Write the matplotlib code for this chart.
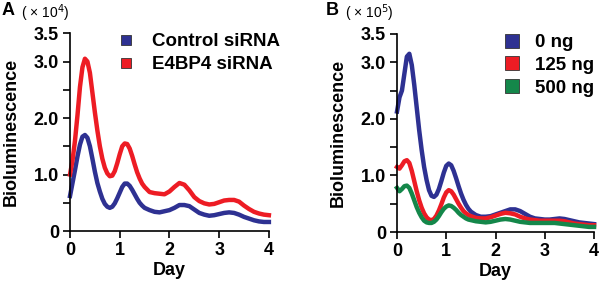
from matplotlib import pyplot as plt
from matplotlib.lines import Line2D

plt.rcParams['font.family'] = ['Liberation Sans', 'DejaVu Sans']

# time axis (days): denser sampling over the first 1.5 days
day = [round(0.05 * i, 2) for i in range(31)] + [round(1.6 + 0.1 * i, 1) for i in range(25)]

# Panel A (x10^4)
control_sirna = [0.62, 0.85, 1.08, 1.32, 1.53, 1.67, 1.70, 1.65, 1.50, 1.28,
                 1.05, 0.85, 0.70, 0.57, 0.48, 0.43, 0.41, 0.43, 0.49, 0.58,
                 0.68, 0.78, 0.84, 0.84, 0.80, 0.73, 0.65, 0.57, 0.50, 0.45,
                 0.41,
                 0.37, 0.34, 0.33, 0.35, 0.37, 0.41, 0.46, 0.46, 0.44, 0.38,
                 0.32, 0.29, 0.27, 0.28, 0.30, 0.32, 0.33, 0.32, 0.29, 0.25,
                 0.22, 0.19, 0.17, 0.16, 0.16]
e4bp4_sirna = [1.00, 1.25, 1.60, 2.05, 2.55, 2.90, 3.05, 3.00, 2.80, 2.45,
               2.10, 1.78, 1.50, 1.28, 1.12, 1.02, 0.97, 0.98, 1.06, 1.20,
               1.36, 1.50, 1.55, 1.54, 1.46, 1.33, 1.18, 1.04, 0.93, 0.84,
               0.78,
               0.69, 0.67, 0.66, 0.65, 0.70, 0.78, 0.85, 0.82, 0.72, 0.60,
               0.53, 0.49, 0.47, 0.48, 0.51, 0.54, 0.55, 0.55, 0.52, 0.45,
               0.39, 0.34, 0.31, 0.29, 0.28]

# Panel B (x10^5)
ng0 = [2.13, 2.38, 2.50, 2.80, 3.10, 3.15, 2.95, 2.60, 2.20, 1.80,
       1.45, 1.15, 0.92, 0.74, 0.64, 0.62, 0.66, 0.76, 0.90, 1.05,
       1.17, 1.21, 1.18, 1.08, 0.95, 0.81, 0.68, 0.57, 0.48, 0.41,
       0.36,
       0.30, 0.27, 0.27, 0.28, 0.31, 0.34, 0.37, 0.40, 0.40, 0.37,
       0.32, 0.27, 0.24, 0.23, 0.22, 0.22, 0.23, 0.24, 0.23, 0.21,
       0.19, 0.17, 0.16, 0.15, 0.14]
ng125 = [1.15, 1.12, 1.18, 1.25, 1.27, 1.22, 1.08, 0.90, 0.72, 0.56,
         0.43, 0.33, 0.26, 0.22, 0.21, 0.23, 0.29, 0.38, 0.49, 0.61,
         0.70, 0.74, 0.72, 0.66, 0.58, 0.50, 0.43, 0.37, 0.33, 0.30,
         0.28,
         0.25, 0.24, 0.24, 0.26, 0.29, 0.32, 0.34, 0.33, 0.31, 0.27,
         0.24, 0.22, 0.21, 0.20, 0.20, 0.20, 0.20, 0.20, 0.19, 0.17,
         0.15, 0.14, 0.13, 0.12, 0.12]
ng500 = [0.78, 0.72, 0.76, 0.81, 0.82, 0.78, 0.68, 0.56, 0.44, 0.34,
         0.26, 0.20, 0.17, 0.16, 0.16, 0.18, 0.22, 0.28, 0.35, 0.41,
         0.45, 0.47, 0.46, 0.43, 0.39, 0.34, 0.30, 0.27, 0.24, 0.22,
         0.21,
         0.19, 0.18, 0.17, 0.18, 0.20, 0.22, 0.23, 0.22, 0.20, 0.18,
         0.17, 0.16, 0.16, 0.16, 0.16, 0.16, 0.16, 0.15, 0.14, 0.13,
         0.12, 0.11, 0.10, 0.09, 0.09]

blue = '#2e3192'
red = '#ed1c24'
green = '#14874a'


def style_axes(ax):
    ax.set_xlim(0, 4)
    ax.set_ylim(0, 3.5)
    ax.set_xticks([0, 1, 2, 3, 4])
    ax.set_xticklabels(['0', '1', '2', '3', '4'])
    ax.set_yticks([0, 0.5, 1.0, 1.5, 2.0, 2.5, 3.0, 3.5])
    ax.set_yticklabels(['0', '', '1.0', '', '2.0', '', '3.0', '3.5'])
    for s in ['top', 'right']:
        ax.spines[s].set_visible(False)
    for s in ['left', 'bottom']:
        ax.spines[s].set_linewidth(1.2)
    ax.tick_params(direction='out', length=5, width=1.2, labelsize=13, pad=3)
    for lab in ax.get_xticklabels() + ax.get_yticklabels():
        lab.set_fontweight('bold')
    ax.set_xlabel('Day', fontsize=13, fontweight='bold', labelpad=2)
    ax.set_ylabel('Bioluminescence', fontsize=13, fontweight='bold', labelpad=10)


def legend(ax, names, colors, ms, anchor, textpad):
    handles = [Line2D([], [], marker='s', ls='', ms=ms, mfc=c, mec='#333333',
                      mew=0.6, label=n) for n, c in zip(names, colors)]
    ax.legend(handles=handles, loc='upper left', frameon=False,
              prop={'weight': 'bold', 'size': 13.5}, handletextpad=textpad,
              labelspacing=0.3, borderaxespad=0.0, borderpad=0.0,
              handlelength=1.0, bbox_to_anchor=anchor)


fig = plt.figure(figsize=(5.99, 2.83), dpi=100)

axA = fig.add_axes([0.1169, 0.1837, 0.332, 0.6986])
axA.plot(day, control_sirna, color=blue, lw=3.2, clip_on=False)
axA.plot(day, e4bp4_sirna, color=red, lw=3.2, clip_on=False)
style_axes(axA)
legend(axA, ['Control siRNA', 'E4BP4 siRNA'], [blue, red], 7.5, (0.236, 1.0), 0.85)

axB = fig.add_axes([0.6628, 0.1802, 0.3289, 0.6997])
axB.plot(day, ng0, color=blue, lw=3.2, clip_on=False)
axB.plot(day, ng125, color=red, lw=3.2, clip_on=False)
axB.plot(day, ng500, color=green, lw=3.2, clip_on=False)
style_axes(axB)
legend(axB, ['0 ng', '125 ng', '500 ng'], [blue, red, green], 9.5, (0.538, 1.0), 0.7)

fig.text(0.002, 0.962, 'A', fontsize=13, fontweight='bold', va='center')
fig.text(0.035, 0.955, '( \u00d7 10$^4$)', fontsize=10, va='center')
fig.text(0.543, 0.962, 'B', fontsize=13, fontweight='bold', va='center')
fig.text(0.576, 0.955, '( \u00d7 10$^5$)', fontsize=10, va='center')

fig.savefig('out.png', dpi=100)
